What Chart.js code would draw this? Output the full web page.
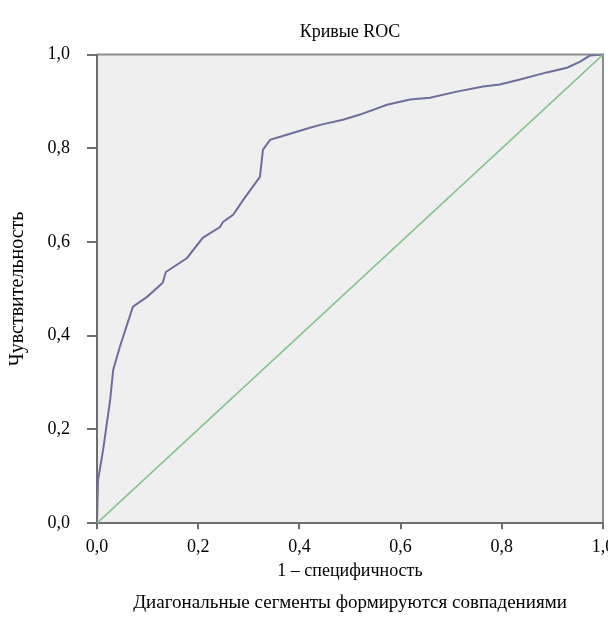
<!DOCTYPE html>
<html>
<head>
<meta charset="utf-8">
<script src="https://cdn.jsdelivr.net/npm/chart.js@4.4.1/dist/chart.umd.min.js"></script>
<style>
  html, body { margin: 0; padding: 0; background: #fff; }
  #wrap { width: 608px; height: 619px; }
</style>
</head>
<body>
<div id="wrap"><canvas id="roc" width="608" height="619"></canvas></div>
<script>
// ROC curve (1 - specificity / sensitivity)
const rocFpr = [0, 0.002, 0.012, 0.026, 0.032, 0.045, 0.071, 0.099, 0.130, 0.136, 0.178, 0.209, 0.243, 0.249, 0.269, 0.289, 0.322, 0.328, 0.342, 0.375, 0.421, 0.441, 0.486, 0.520, 0.573, 0.619, 0.658, 0.711, 0.763, 0.796, 0.836, 0.889, 0.929, 0.955, 0.974, 1];
const rocTpr = [0, 0.092, 0.156, 0.263, 0.327, 0.376, 0.462, 0.483, 0.513, 0.536, 0.566, 0.609, 0.632, 0.643, 0.658, 0.690, 0.739, 0.797, 0.818, 0.829, 0.844, 0.850, 0.861, 0.872, 0.893, 0.904, 0.908, 0.921, 0.932, 0.936, 0.947, 0.962, 0.972, 0.985, 0.998, 1];

// reference line
const diagX = [0, 1];
const diagY = [0, 1];

const tickValues = [0, 0.2, 0.4, 0.6, 0.8, 1.0];

const serif = "'Liberation Serif', 'Times New Roman', serif";
const axisColor = '#6e6e6e';

function toPoints(xs, ys) {
    return xs.map((x, i) => ({ x: x, y: ys[i] }));
}

function fmt(v) {
    return v.toFixed(1).replace('.', ',');
}

// grey plot background + thin frame on top/right
const plotBackground = {
    id: 'plotBackground',
    beforeDraw(chart) {
        const { ctx, chartArea: a } = chart;
        ctx.save();
        ctx.fillStyle = '#efefef';
        ctx.fillRect(a.left, a.top, a.right - a.left, a.bottom - a.top);
        ctx.strokeStyle = '#8c8c8c';
        ctx.lineWidth = 2;
        ctx.beginPath();
        ctx.moveTo(a.left, a.top);
        ctx.lineTo(a.right, a.top);
        ctx.lineTo(a.right, a.bottom);
        ctx.stroke();
        ctx.restore();
    }
};

new Chart(document.getElementById('roc'), {
    type: 'scatter',
    data: {
        datasets: [
            {
                label: 'Опорная линия',
                data: toPoints(diagX, diagY),
                showLine: true,
                borderColor: '#84c490',
                borderWidth: 1.6,
                pointRadius: 0
            },
            {
                label: 'ROC',
                data: toPoints(rocFpr, rocTpr),
                showLine: true,
                borderColor: '#6e6e9e',
                borderWidth: 2,
                pointRadius: 0,
                tension: 0
            }
        ]
    },
    options: {
        responsive: false,
        animation: false,
        layout: {
            autoPadding: false,
            padding: { left: 0, right: 5, top: 0, bottom: 0 }
        },
        plugins: {
            legend: { display: false },
            tooltip: { enabled: false },
            title: {
                display: true,
                text: 'Кривые ROC',
                fullSize: false,
                color: '#000',
                font: { family: serif, size: 18, weight: 'normal' },
                padding: { top: 21, bottom: 12 }
            },
            subtitle: {
                display: true,
                position: 'bottom',
                text: 'Диагональные сегменты формируются совпадениями',
                fullSize: false,
                color: '#000',
                font: { family: serif, size: 19, weight: 'normal' },
                padding: { top: 8, bottom: 5 }
            }
        },
        scales: {
            x: {
                type: 'linear',
                min: 0,
                max: 1,
                afterBuildTicks: s => { s.ticks = tickValues.map(v => ({ value: v })); },
                afterFit: s => { s.height = 60; s.paddingLeft = 0; s.paddingRight = 0; },
                ticks: {
                    color: '#000',
                    font: { family: serif, size: 18 },
                    padding: 7,
                    maxRotation: 0,
                    callback: v => fmt(v)
                },
                grid: {
                    drawOnChartArea: false,
                    drawTicks: true,
                    tickLength: 6,
                    color: axisColor,
                    lineWidth: 2
                },
                border: { display: true, color: axisColor, width: 2 },
                title: {
                    display: true,
                    text: '1 – специфичность',
                    color: '#000',
                    font: { family: serif, size: 18 },
                    padding: { top: 0, bottom: 1 }
                }
            },
            y: {
                type: 'linear',
                min: 0,
                max: 1,
                afterBuildTicks: s => { s.ticks = tickValues.map(v => ({ value: v })); },
                afterFit: s => { s.width = 97; s.paddingTop = 0; s.paddingBottom = 0; },
                ticks: {
                    color: '#000',
                    font: { family: serif, size: 18 },
                    padding: 17,
                    callback: v => fmt(v)
                },
                grid: {
                    drawOnChartArea: false,
                    drawTicks: true,
                    tickLength: 10,
                    color: axisColor,
                    lineWidth: 2
                },
                border: { display: true, color: axisColor, width: 2 },
                title: {
                    display: true,
                    text: 'Чувствительность',
                    color: '#000',
                    font: { family: serif, size: 20 },
                    padding: { top: 6, bottom: 0 }
                }
            }
        }
    },
    plugins: [plotBackground]
});
</script>
</body>
</html>
